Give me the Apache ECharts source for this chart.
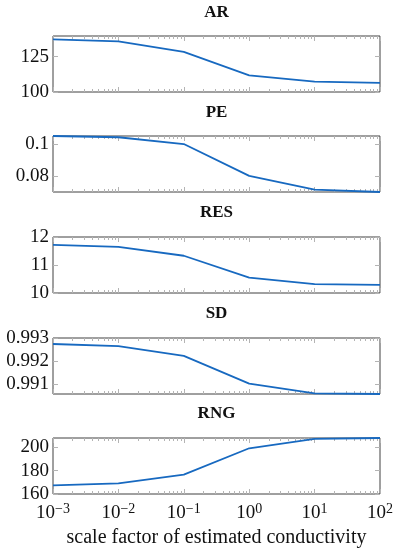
<!DOCTYPE html>
<html><head><meta charset="utf-8">
<script src="https://cdn.jsdelivr.net/npm/echarts@6/dist/echarts.min.js"></script>
<style>html,body{margin:0;padding:0;background:#fff}#c{width:397px;height:550px}</style>
</head><body><div id="c"></div>
<script>
// ---- data ----
const xValues = [0.001, 0.01, 0.1, 1, 10, 100];
const panelTitles = ['AR', 'PE', 'RES', 'SD', 'RNG'];
const arValues  = [137.3, 135.9, 128.5, 111.8, 107.3, 106.4];
const peValues  = [0.1053, 0.1045, 0.1002, 0.0800, 0.0713, 0.0698];
const resValues = [11.72, 11.65, 11.33, 10.55, 10.32, 10.29];
const sdValues  = [0.99274, 0.99265, 0.99223, 0.99103, 0.99061, 0.99058];
const rngValues = [167.4, 169.1, 176.6, 199.2, 207.2, 208.0];
const arTicks  = [100, 125];
const peTicks  = [0.08, 0.1];
const resTicks = [10, 11, 12];
const sdTicks  = [0.991, 0.992, 0.993];
const rngTicks = [160, 180, 200];
const xTickLabels = ['10^-3', '10^-2', '10^-1', '10^0', '10^1', '10^2'];
const xAxisName = 'scale factor of estimated conductivity';

const seriesValues = [arValues, peValues, resValues, sdValues, rngValues];
const yTicks = [arTicks, peTicks, resTicks, sdTicks, rngTicks];
const yRanges = [[100, 139.7], [0.0698, 0.1053], [10, 12], [0.99058, 0.993], [160, 208]];

// ---- layout / style ----
const FONT = '"Liberation Serif", "Times New Roman", serif';
const tops = [36, 136, 237, 338, 438];
const gridH = 56, gridL = 53, gridR = 17;
const lineColor = '#1769c0', frameColor = '#404040', tickColor = '#b4b4b4';
// minor tick positions (2..9 per decade), expressed as log10 for a linear helper axis
const minorLogX = [];
for (let e = -3; e < 2; e++) for (let m = 2; m <= 9; m++) minorLogX.push(e + Math.log10(m));
const majorLogX = xValues.map(function (x) { return Math.log10(x); });

const noLine = {show: false, onZero: false};
const grids = [], xAxes = [], yAxes = [], series = [], titles = [];
const titleTops = [4, 104, 204, 305, 405];
for (let i = 0; i < 5; i++) {
  grids.push({left: gridL, right: gridR, top: tops[i], height: gridH, show: true,
    borderColor: frameColor, borderWidth: 1, backgroundColor: 'transparent', containLabel: false});
  titles.push({text: panelTitles[i], left: gridL + (397 - gridL - gridR) / 2, top: titleTops[i], textAlign: 'center', padding: 0,
    textStyle: {fontFamily: FONT, fontWeight: 'bold', fontSize: 17, color: '#111'}});
  const last = i === 4;
  const xi = xAxes.length;
  // main data axis (log), bottom, major ticks + labels
  xAxes.push({gridIndex: i, type: 'log', logBase: 10, min: 0.001, max: 100, position: 'bottom',
    axisLine: noLine, splitLine: {show: false}, minorTick: {show: false},
    axisTick: {show: true, inside: true, length: 5, lineStyle: {color: tickColor, width: 1}},
    axisLabel: {show: last, margin: 8,
      formatter: function (v) {
        const idx = xValues.findIndex(function (x) { return Math.abs(x - v) / x < 1e-6; });
        if (idx < 0) return '';
        const s = xTickLabels[idx].split('^');
        return '{b|' + s[0] + '}{s|' + s[1].replace('-', '\u2212') + '}';
      },
      rich: {b: {fontFamily: FONT, fontSize: 19, color: '#111'},
             s: {fontFamily: FONT, fontSize: 14, color: '#111', padding: [0, 0, 9, 0]}}},
    name: last ? xAxisName : '', nameLocation: 'middle', nameGap: 34,
    nameTextStyle: {fontFamily: FONT, fontSize: 20, color: '#111'}});
  // helper linear axes on log10 scale: top major, top minor, bottom minor
  xAxes.push({gridIndex: i, type: 'value', min: -3, max: 2, position: 'top',
    axisLine: noLine, splitLine: {show: false}, axisLabel: {show: false}, minorTick: {show: false},
    axisTick: {show: true, inside: true, length: 5, lineStyle: {color: tickColor, width: 1}, customValues: majorLogX}});
  xAxes.push({gridIndex: i, type: 'value', min: -3, max: 2, position: 'top',
    axisLine: noLine, splitLine: {show: false}, axisLabel: {show: false}, minorTick: {show: false},
    axisTick: {show: true, inside: true, length: 3, lineStyle: {color: tickColor, width: 1}, customValues: minorLogX}});
  xAxes.push({gridIndex: i, type: 'value', min: -3, max: 2, position: 'bottom',
    axisLine: noLine, splitLine: {show: false}, axisLabel: {show: false}, minorTick: {show: false},
    axisTick: {show: true, inside: true, length: 3, lineStyle: {color: tickColor, width: 1}, customValues: minorLogX}});
  const yi = yAxes.length;
  yAxes.push({gridIndex: i, type: 'value', min: yRanges[i][0], max: yRanges[i][1], position: 'left',
    axisLine: noLine, splitLine: {show: false},
    axisTick: {show: true, inside: true, length: 5, lineStyle: {color: tickColor}, customValues: yTicks[i]},
    axisLabel: {show: true, customValues: yTicks[i], margin: 4, fontFamily: FONT, fontSize: 19, color: '#111',
      formatter: function (v) { return String(v); }}});
  yAxes.push({gridIndex: i, type: 'value', min: yRanges[i][0], max: yRanges[i][1], position: 'right',
    axisLine: noLine, splitLine: {show: false},
    axisTick: {show: true, inside: true, length: 5, lineStyle: {color: tickColor}, customValues: yTicks[i]},
    axisLabel: {show: false}});
  series.push({type: 'line', xAxisIndex: xi, yAxisIndex: yi, showSymbol: false, symbol: 'none', silent: true,
    lineStyle: {color: lineColor, width: 1.8}, clip: false,
    data: xValues.map(function (x, k) { return [x, seriesValues[i][k]]; })});
}

const chart = echarts.init(document.getElementById('c'), null, {renderer: 'canvas'});
chart.setOption({animation: false, backgroundColor: '#fff', title: titles, grid: grids,
  xAxis: xAxes, yAxis: yAxes, series: series});
</script></body></html>
